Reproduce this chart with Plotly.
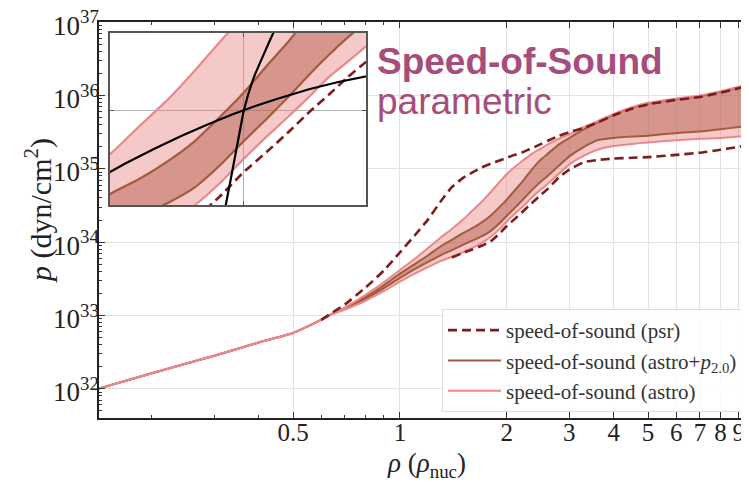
import numpy as np
import plotly.graph_objects as go

# ---------------- data (log10 of pressure in dyn/cm^2) ----------------
rho = [0.13, 0.2, 0.3, 0.4, 0.5, 0.533, 0.6, 0.65, 0.7, 0.8, 0.9, 1.0, 1.1, 1.2, 1.3,
       1.4, 1.5, 1.6, 1.7, 1.8, 1.9, 2.0, 2.1, 2.2, 2.3, 2.4, 2.5, 2.6, 2.8, 3.0,
       3.3, 3.6, 4.0, 4.5, 5.0, 6.0, 7.0, 8.0, 9.0, 10.0]

logp_astro_hi = [31.95, 32.21, 32.45, 32.63, 32.76, 32.82, 32.94, 33.03, 33.11, 33.28, 33.45,
                 33.62, 33.77, 33.92, 34.06, 34.18, 34.30, 34.43, 34.55, 34.68, 34.81, 34.93,
                 35.02, 35.10, 35.17, 35.23, 35.28, 35.33, 35.41, 35.47, 35.57, 35.65, 35.75,
                 35.84, 35.90, 35.96, 36.00, 36.06, 36.12, 36.18]
logp_astro_lo = [31.95, 32.21, 32.45, 32.63, 32.76, 32.82, 32.94, 33.02, 33.08, 33.20, 33.33,
                 33.46, 33.57, 33.66, 33.74, 33.80, 33.86, 33.92, 33.99, 34.07, 34.17, 34.28,
                 34.38, 34.47, 34.56, 34.65, 34.72, 34.79, 34.93, 35.06, 35.18, 35.26, 35.31,
                 35.34, 35.36, 35.39, 35.41, 35.42, 35.44, 35.45]
logp_p20_hi = [31.95, 32.21, 32.45, 32.63, 32.76, 32.82, 32.94, 33.03, 33.10, 33.25, 33.41,
               33.57, 33.70, 33.82, 33.94, 34.03, 34.12, 34.19, 34.27, 34.36, 34.47, 34.58,
               34.70, 34.81, 34.93, 35.04, 35.13, 35.20, 35.33, 35.42, 35.54, 35.63, 35.74,
               35.83, 35.89, 35.95, 35.99, 36.05, 36.11, 36.17]
logp_p20_lo = [31.95, 32.21, 32.45, 32.63, 32.76, 32.82, 32.94, 33.03, 33.09, 33.23, 33.37,
               33.51, 33.63, 33.73, 33.82, 33.89, 33.96, 34.02, 34.08, 34.15, 34.25, 34.36,
               34.46, 34.56, 34.66, 34.75, 34.83, 34.90, 35.04, 35.17, 35.30, 35.39, 35.42,
               35.44, 35.45, 35.49, 35.51, 35.54, 35.57, 35.59]
logp_psr_hi = [None, None, None, None, None, None, 32.94, 33.05, 33.15, 33.38, 33.61,
               33.86, 34.09, 34.31, 34.55, 34.75, 34.87, 34.95, 35.02, 35.07, 35.11, 35.15,
               35.19, 35.22, 35.26, 35.30, 35.34, 35.38, 35.45, 35.50, 35.56, 35.63, 35.73,
               35.82, 35.88, 35.94, 35.98, 36.04, 36.10, 36.16]
logp_psr_lo = [None, None, None, None, None, None, None, None, None, None, None,
               None, None, None, None, 33.79, 33.85, 33.90, 33.95, 34.01, 34.11, 34.22,
               34.31, 34.40, 34.49, 34.57, 34.65, 34.72, 34.88, 34.99, 35.09, 35.12, 35.14,
               35.15, 35.16, 35.19, 35.22, 35.26, 35.30, 35.35]

# black constraint curves shown only in the inset
eosA_rho = [1.45, 1.55, 1.65, 1.75, 1.85, 1.95, 2.05, 2.15, 2.3, 2.45, 2.7]
eosA_logp = [34.179, 34.258, 34.325, 34.384, 34.435, 34.480, 34.519, 34.552, 34.595, 34.628, 34.669]
eosB_rho = [1.90, 1.92, 1.95, 1.98, 2.0, 2.04, 2.09, 2.14, 2.2]
eosB_logp = [33.95, 34.05, 34.22, 34.39, 34.50, 34.64, 34.76, 34.87, 34.98]

# zoom window (inset)
inset_rho = [1.5, 2.6]
inset_logp = [34.07, 34.85]
inset_grid_rho = [2.0]
inset_grid_logp = [34.5]

x_ticks = [0.5, 1, 2, 3, 4, 5, 6, 7, 8, 9]
x_ticktext = ["0.5", "1", "2", "3", "4", "5", "6", "7", "8", "9"]
x_minor = [0.2, 0.3, 0.4, 0.6, 0.7, 0.8, 0.9]
y_exps = [32, 33, 34, 35, 36, 37]


def P(a):
    return [None if v is None else 10.0 ** v for v in a]


PINK = "#e8898b"
PINK_FILL = "rgba(232,120,120,0.40)"
BROWN = "#a25b3c"
BROWN_FILL = "rgba(170,80,60,0.42)"
DARK = "#7d1c1c"
SERIF = "Liberation Serif"

fig = go.Figure()


def add_set(xa, ya, legend, lw):
    sm = 0.5
    fig.add_trace(go.Scatter(x=rho, y=P(logp_astro_lo), mode="lines", line=dict(width=0, shape="spline", smoothing=sm),
                             showlegend=False, hoverinfo="skip", xaxis=xa, yaxis=ya))
    fig.add_trace(go.Scatter(x=rho, y=P(logp_astro_hi), mode="lines", line=dict(width=0, shape="spline", smoothing=sm),
                             fill="tonexty", fillcolor=PINK_FILL, showlegend=False, hoverinfo="skip",
                             xaxis=xa, yaxis=ya))
    fig.add_trace(go.Scatter(x=rho, y=P(logp_p20_lo), mode="lines", line=dict(width=0, shape="spline", smoothing=sm),
                             showlegend=False, hoverinfo="skip", xaxis=xa, yaxis=ya))
    fig.add_trace(go.Scatter(x=rho, y=P(logp_p20_hi), mode="lines", line=dict(width=0, shape="spline", smoothing=sm),
                             fill="tonexty", fillcolor=BROWN_FILL, showlegend=False, hoverinfo="skip",
                             xaxis=xa, yaxis=ya))
    fig.add_trace(go.Scatter(x=rho, y=P(logp_p20_lo), mode="lines",
                             line=dict(color=BROWN, width=lw, shape="spline", smoothing=sm),
                             showlegend=False, xaxis=xa, yaxis=ya))
    fig.add_trace(go.Scatter(x=rho, y=P(logp_p20_hi), mode="lines",
                             line=dict(color=BROWN, width=lw, shape="spline", smoothing=sm),
                             name="speed-of-sound (astro+<i>p</i><sub>2.0</sub>)", legendrank=2,
                             showlegend=legend, xaxis=xa, yaxis=ya))
    fig.add_trace(go.Scatter(x=rho, y=P(logp_astro_lo), mode="lines",
                             line=dict(color=PINK, width=lw, shape="spline", smoothing=sm),
                             showlegend=False, xaxis=xa, yaxis=ya))
    fig.add_trace(go.Scatter(x=rho, y=P(logp_astro_hi), mode="lines",
                             line=dict(color=PINK, width=lw, shape="spline", smoothing=sm),
                             name="speed-of-sound (astro)", legendrank=3,
                             showlegend=legend, xaxis=xa, yaxis=ya))
    fig.add_trace(go.Scatter(x=rho, y=P(logp_psr_hi), mode="lines",
                             line=dict(color=DARK, width=2.6, dash="9px,5px", shape="spline", smoothing=sm),
                             name="speed-of-sound (psr)", legendrank=1,
                             showlegend=legend, xaxis=xa, yaxis=ya))
    fig.add_trace(go.Scatter(x=rho, y=P(logp_psr_lo), mode="lines",
                             line=dict(color=DARK, width=2.6, dash="9px,5px", shape="spline", smoothing=sm),
                             showlegend=False, xaxis=xa, yaxis=ya))


add_set("x", "y", True, 2)
add_set("x2", "y2", False, 2.2)

fig.add_trace(go.Scatter(x=eosA_rho, y=P(eosA_logp), mode="lines",
                         line=dict(color="black", width=2.2),
                         showlegend=False, xaxis="x2", yaxis="y2"))
fig.add_trace(go.Scatter(x=eosB_rho, y=P(eosB_logp), mode="lines",
                         line=dict(color="black", width=2.2, shape="spline", smoothing=0.6),
                         showlegend=False, xaxis="x2", yaxis="y2"))

# zoom rectangle on main axes (log coordinates for shapes on log axes)
fig.add_shape(type="rect", xref="x", yref="y",
              x0=float(np.log10(inset_rho[0])), x1=float(np.log10(inset_rho[1])),
              y0=inset_logp[0], y1=inset_logp[1],
              line=dict(color="#8a8a8a", width=1.2), layer="above")

# page has an 8px body margin: figure is placed at (8, 8) of the 749x482 window
OFF = 8
PW, PH = 749, 482
L, R, T, B = 99, 749, 22, 418          # plot area in window pixels
W, H = PW - OFF, PH - OFF


def px(xp):
    return (xp - L) / (R - L)


def py(yp):
    return (B - yp) / (B - T)


xtickfont = dict(family=SERIF, size=25, color="#222")
ytickfont = dict(family=SERIF, size=27, color="#222")

fig.update_layout(
    width=W, height=H,
    margin=dict(l=L - OFF, r=PW - R, t=T - OFF, b=PH - B, autoexpand=False),
    paper_bgcolor="white", plot_bgcolor="white",
    xaxis=dict(type="log", range=[float(np.log10(0.142)), float(np.log10(9.62))],
               tickmode="array", tickvals=x_ticks, ticktext=x_ticktext, automargin=False,
               ticks="inside", ticklen=6, tickwidth=1, tickcolor="#333", ticklabelstandoff=-9,
               ticklabeloverflow="allow",
               showline=True, linecolor="#222", linewidth=1.5, mirror="allticks",
               showgrid=True, gridcolor="#e2e2e2", gridwidth=1,
               tickfont=xtickfont, zeroline=False,
               minor=dict(tickvals=x_minor, ticks="inside", ticklen=3, tickcolor="#333", showgrid=False)),
    yaxis=dict(type="log", range=[31.6, 37.003], automargin=False,
               tickmode="array", tickvals=[10.0 ** e for e in y_exps],
               ticktext=["10<sup>%d</sup>" % e for e in y_exps],
               ticks="inside", ticklen=6, tickwidth=1, tickcolor="#333", ticklabelstandoff=-7,
               ticklabeloverflow="allow", ticklabelshift=3,
               showline=True, linecolor="#222", linewidth=1.5, mirror=False,
               showgrid=True, gridcolor="#e2e2e2", gridwidth=1,
               tickfont=ytickfont, zeroline=False,
               minor=dict(tickvals=[k * 10.0 ** e for e in range(31, 37) for k in range(2, 10)],
                          ticks="inside", ticklen=3, tickcolor="#333", showgrid=False)),
    xaxis2=dict(type="log", domain=[px(110), px(366)], anchor="y2", automargin=False,
                range=[float(np.log10(inset_rho[0])), float(np.log10(inset_rho[1]))],
                tickmode="array", tickvals=inset_grid_rho, showticklabels=False,
                ticks="inside", ticklen=4, tickcolor="#555",
                showline=True, linecolor="#555", linewidth=1.5, mirror="allticks",
                showgrid=True, gridcolor="#b5b5b5", zeroline=False),
    yaxis2=dict(type="log", domain=[py(205), py(33)], anchor="x2", automargin=False,
                range=inset_logp,
                tickmode="array", tickvals=[10.0 ** v for v in inset_grid_logp], showticklabels=False,
                ticks="inside", ticklen=4, tickcolor="#555",
                showline=True, linecolor="#555", linewidth=1.5, mirror="allticks",
                showgrid=True, gridcolor="#b5b5b5", zeroline=False),
    legend=dict(x=px(442), y=py(309), xanchor="left", yanchor="top", traceorder="normal",
                bgcolor="rgba(255,255,255,0.85)", bordercolor="#dddddd", borderwidth=1,
                font=dict(family=SERIF, size=21, color="#333"),
                itemwidth=53, tracegroupgap=0),
    showlegend=True,
)

fig.add_annotation(x=px(38), y=py(211), xref="paper", yref="paper", textangle=-90,
                   xanchor="center", yanchor="middle",
                   text="<i>p</i> (dyn/cm<sup>2</sup>)", showarrow=False,
                   font=dict(family=SERIF, size=30, color="#222"))
fig.add_annotation(x=px(426), y=py(465), xref="paper", yref="paper",
                   xanchor="center", yanchor="middle",
                   text="<i>ρ</i> (<i>ρ</i><sub>nuc</sub>)", showarrow=False,
                   font=dict(family=SERIF, size=27, color="#222"))
fig.add_annotation(x=px(375), y=py(61), xref="paper", yref="paper", xanchor="left", yanchor="middle",
                   text="<b>Speed-of-Sound</b>", showarrow=False,
                   font=dict(family="Liberation Sans", size=37, color="#a64d7b"))
fig.add_annotation(x=px(375), y=py(102), xref="paper", yref="paper", xanchor="left", yanchor="middle",
                   text="parametric", showarrow=False,
                   font=dict(family="Liberation Sans", size=37, color="#a64d7b"))

fig.write_html("out.html")
